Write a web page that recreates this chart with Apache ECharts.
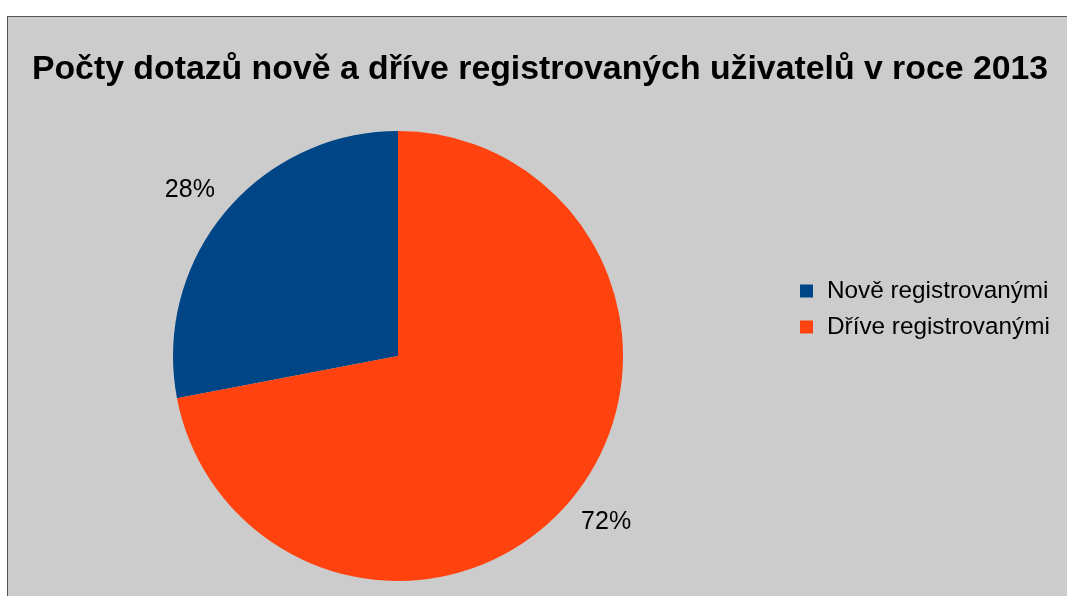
<!DOCTYPE html>
<html>
<head>
<meta charset="utf-8">
<script src="https://cdn.jsdelivr.net/npm/echarts@6/dist/echarts.min.js"></script>
<style>
  html, body { margin: 0; padding: 0; background: #ffffff; }
  .frame {
    position: absolute;
    left: 7px;
    top: 16px;
    width: 1060px;
    height: 580px;
    background: #cccccc;
    border-top: 1px solid #555555;
    border-left: 1px solid #555555;
  }
  #chart { position: absolute; left: 0; top: 0; width: 1067px; height: 596px; }
</style>
</head>
<body>
<div class="frame"></div>
<div id="chart"></div>
<script>
  var titleText = 'Počty dotazů nově a dříve registrovaných uživatelů v roce 2013'
  var categories = ['Nově registrovanými', 'Dříve registrovanými']
  var values = [28, 72]
  var colors = ['#004586', '#ff420e']

  var chart = echarts.init(document.getElementById('chart'))
  chart.setOption({
    backgroundColor: 'transparent',
    animation: false,
    title: {
      text: titleText,
      left: 535,
      textAlign: 'center',
      top: 48,
      textStyle: {
        fontFamily: 'Liberation Sans',
        fontWeight: 'bold',
        fontSize: 33.8,
        color: '#000000'
      }
    },
    legend: {
      orient: 'vertical',
      left: 800,
      top: 279,
      padding: 0,
      icon: 'rect',
      itemWidth: 13,
      itemHeight: 13,
      itemGap: 12,
      data: categories,
      textStyle: {
        fontFamily: 'Liberation Sans',
        fontSize: 24.3,
        color: '#000000',
        padding: [0, 0, 0, 9]
      }
    },
    series: [
      {
        type: 'pie',
        center: [398, 356],
        radius: 225,
        startAngle: 90,
        clockwise: false, // first slice runs counterclockwise from 12 o'clock
        avoidLabelOverlap: false,
        label: {
          show: true,
          position: 'outside',
          formatter: function (p) { return p.value + '%' },
          fontFamily: 'Liberation Sans',
          fontSize: 25,
          color: '#000000'
        },
        labelLine: {
          show: false,
          length: 36,
          length2: -23
        },
        emphasis: { disabled: true },
        data: categories.map(function (name, i) {
          return { name: name, value: values[i], itemStyle: { color: colors[i] } }
        })
      }
    ]
  })
</script>
</body>
</html>
